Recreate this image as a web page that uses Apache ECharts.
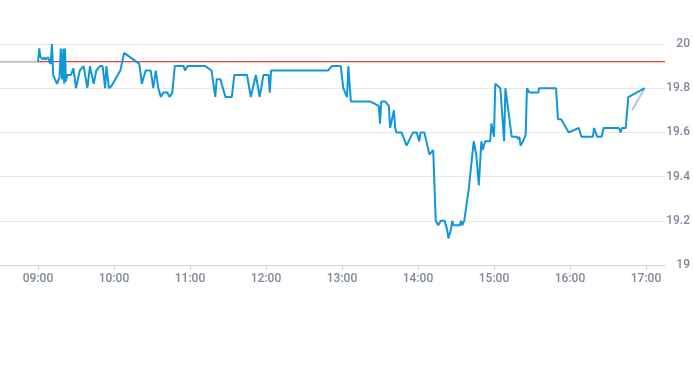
<!DOCTYPE html>
<html>
<head>
<meta charset="utf-8">
<script src="https://cdn.jsdelivr.net/npm/echarts@6/dist/echarts.min.js"></script>
<style>
html,body{margin:0;padding:0;background:#fff;}
#chart{width:693px;height:365px;}
</style>
</head>
<body>
<div id="chart"></div>
<script>
// ---- data ----
var times = [
 '09:00:00','09:01:00','09:02:00','09:04:00','09:05:00','09:06:00','09:08:00','09:09:00','09:10:00','09:11:00',
 '09:12:00','09:15:00','09:17:00','09:18:00','09:19:00','09:20:00','09:20:40','09:21:20','09:22:00','09:23:00',
 '09:26:00','09:28:00','09:30:00','09:33:00','09:36:00','09:39:00','09:41:00','09:44:00','09:46:00','09:49:00',
 '09:51:00','09:53:00','09:54:00','09:56:00','09:58:00','10:05:00','10:08:00','10:20:00','10:22:00','10:25:00',
 '10:29:00','10:31:00','10:33:00','10:35:00','10:37:00','10:39:00','10:42:00','10:44:00','10:46:00','10:48:00',
 '10:55:00','10:56:00','10:58:00','11:12:00','11:17:00','11:20:00','11:21:00','11:24:00','11:28:00','11:33:00',
 '11:35:00','11:45:00','11:48:00','11:52:00','11:55:00','11:58:00','12:02:00','12:03:00','12:04:00','12:49:00',
 '12:52:00','12:59:00','13:01:00','13:02:30','13:04:00','13:05:00','13:07:00','13:22:00','13:29:00','13:30:00',
 '13:31:00','13:34:00','13:37:00','13:38:00','13:41:00','13:42:00','13:43:00','13:47:00','13:51:00','13:56:00',
 '13:59:00','14:01:00','14:02:00','14:05:00','14:09:00','14:12:00','14:13:00','14:14:00','14:15:00','14:16:00',
 '14:18:00','14:21:00','14:23:00','14:24:00','14:26:00','14:27:00','14:28:00','14:33:00','14:34:00','14:35:00',
 '14:36:30','14:40:00','14:41:00','14:44:00','14:46:00','14:48:00','14:50:00','14:51:00','14:53:00','14:57:00',
 '14:58:00','14:59:00','15:00:00','15:01:00','15:05:00','15:08:00','15:09:00','15:14:00','15:18:00','15:19:00',
 '15:20:00','15:21:00','15:23:00','15:25:00','15:26:00','15:28:00','15:35:00','15:35:30','15:49:00','15:50:30',
 '15:53:00','15:59:00','16:07:00','16:09:00','16:18:00','16:19:00','16:21:30','16:25:00','16:26:30','16:38:30',
 '16:40:00','16:41:00','16:44:00','16:46:00','16:59:00'
];
var prices = [
 19.92,19.98,19.94,19.93,19.94,19.93,19.94,19.92,19.91,20.00,
 19.86,19.82,19.85,19.98,19.84,19.98,19.82,19.98,19.83,19.86,
 19.86,19.89,19.80,19.88,19.90,19.80,19.90,19.82,19.88,19.90,
 19.90,19.80,19.90,19.80,19.81,19.88,19.96,19.91,19.82,19.88,
 19.88,19.80,19.88,19.80,19.76,19.78,19.78,19.76,19.78,19.90,
 19.90,19.88,19.90,19.90,19.88,19.76,19.84,19.84,19.76,19.76,
 19.86,19.86,19.76,19.86,19.76,19.86,19.86,19.78,19.88,19.88,
 19.90,19.90,19.80,19.78,19.76,19.90,19.74,19.74,19.72,19.64,
 19.74,19.74,19.72,19.62,19.70,19.62,19.60,19.60,19.54,19.60,
 19.60,19.56,19.60,19.60,19.50,19.52,19.52,19.20,19.19,19.18,
 19.20,19.20,19.16,19.12,19.16,19.20,19.18,19.18,19.20,19.18,
 19.20,19.34,19.34,19.56,19.50,19.36,19.56,19.52,19.56,19.56,
 19.64,19.64,19.58,19.82,19.80,19.56,19.80,19.58,19.58,19.57,
 19.58,19.54,19.56,19.59,19.80,19.78,19.78,19.80,19.80,19.66,
 19.66,19.60,19.62,19.58,19.58,19.62,19.58,19.58,19.62,19.62,
 19.60,19.62,19.62,19.76,19.80
];
var preTimes = ['08:30:00','09:00:00'];
var prePrices = [19.92, 19.92];
var postTimes = ['16:49:00','16:59:00'];
var postPrices = [19.70, 19.80];
var prevClose = 19.92;
var tickTimes = ['09:00','10:00','11:00','12:00','13:00','14:00','15:00','16:00','17:00'];
var axisStart = '08:30';
var axisEnd = '17:15';
var yMin = 19, yMax = 20, yStep = 0.2;

// ---- helpers: time string -> minutes of day ----
function mins(t){
  var p = t.split(':');
  return (+p[0])*60 + (+p[1]) + (+(p[2]||0))/60;
}
function pairs(ts_, vs){ return ts_.map(function(t,i){ return [mins(t), vs[i]]; }); }
var tickVals = tickTimes.map(mins);
function pad(n){ return (n<10?'0':'')+n; }

var labelColor = '#7f8896';
var chart = echarts.init(document.getElementById('chart'));
chart.setOption({
  animation: false,
  grid: { left: 0, right: 26, top: 44, bottom: 100, containLabel: false },
  xAxis: {
    type: 'value',
    min: mins(axisStart), max: mins(axisEnd),
    axisLine: { lineStyle: { color: '#ccd3dc', width: 1 } },
    axisTick: { show: true, customValues: tickVals, length: 5, lineStyle: { color: '#ccd3dc' } },
    axisLabel: {
      customValues: tickVals,
      color: labelColor, fontSize: 12, fontFamily: 'Roboto', fontWeight: 500, margin: 8,
      formatter: function(v){ var m = Math.round(v); return pad(Math.floor(m/60))+':'+pad(m%60); }
    },
    splitLine: { show: false }
  },
  yAxis: {
    type: 'value', position: 'right',
    min: yMin, max: yMax, interval: yStep,
    axisLine: { show: false }, axisTick: { show: false },
    axisLabel: { color: labelColor, fontSize: 12, fontFamily: 'Roboto', fontWeight: 500, align: 'right', margin: 25 },
    splitLine: { lineStyle: { color: '#e4e7eb', width: 1 } }
  },
  series: [
    {
      type: 'line', data: [[mins(axisStart), prevClose], [mins(axisEnd), prevClose]],
      showSymbol: false, symbol: 'none', silent: true,
      lineStyle: { color: '#f2392e', width: 1.2 }, z: 1
    },
    {
      type: 'line', data: pairs(preTimes, prePrices), showSymbol: false, symbol: 'none',
      lineStyle: { color: '#c2c4c8', width: 2 }, z: 2
    },
    {
      type: 'line', data: pairs(postTimes, postPrices), showSymbol: false, symbol: 'none',
      lineStyle: { color: '#b4c6d8', width: 2 }, z: 2
    },
    {
      type: 'line', data: pairs(times, prices), showSymbol: false, symbol: 'none',
      lineStyle: { color: '#1296db', width: 2 }, z: 3
    }
  ]
});
</script>
</body>
</html>
